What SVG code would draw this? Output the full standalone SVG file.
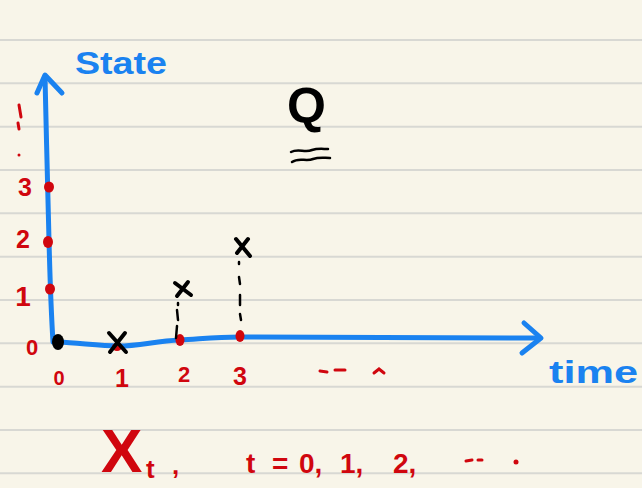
<svg xmlns="http://www.w3.org/2000/svg" width="642" height="488" viewBox="0 0 642 488">
<style>
.rule{stroke:#d8d8d3;stroke-width:2}
.blue{stroke:#1a82f0;stroke-width:5;fill:none;stroke-linecap:round;stroke-linejoin:round}
.blk{stroke:#000;stroke-width:4;fill:none;stroke-linecap:round}
.dash{stroke:#000;stroke-width:2.5;fill:none;stroke-linecap:round}
.rdash{stroke:#d0060e;stroke-width:3;fill:none;stroke-linecap:round}
.rdot{fill:#d0060e}
.rt{fill:#d0060e;font-family:"Liberation Sans",Arial,sans-serif;font-weight:bold}
.bt{fill:#1a82f0;font-family:"Liberation Sans",Arial,sans-serif;font-weight:bold}
</style>
<rect width="642" height="488" fill="#f8f5e9"/>
<g id="paper">
<line class="rule" x1="0" y1="40" x2="642" y2="40"/>
<line class="rule" x1="0" y1="83.3" x2="642" y2="83.3"/>
<line class="rule" x1="0" y1="126.7" x2="642" y2="126.7"/>
<line class="rule" x1="0" y1="170" x2="642" y2="170"/>
<line class="rule" x1="0" y1="213.3" x2="642" y2="213.3"/>
<line class="rule" x1="0" y1="256.7" x2="642" y2="256.7"/>
<line class="rule" x1="0" y1="300" x2="642" y2="300"/>
<line class="rule" x1="0" y1="343.3" x2="642" y2="343.3"/>
<line class="rule" x1="0" y1="386.7" x2="642" y2="386.7"/>
<line class="rule" x1="0" y1="430" x2="642" y2="430"/>
<line class="rule" x1="0" y1="473.3" x2="642" y2="473.3"/>
</g>
<g id="axes">
<path class="blue" d="M45,77 C46,130 48,190 49,240 C50,280 51,310 53,342"/>
<path class="blue" d="M37,93 L45,75 L62,93"/>
<path class="blue" d="M58,342 C80,343 100,346 118,346 C140,346 155,341 180,340 C200,339 215,337 240,337 L540,338"/>
<path class="blue" d="M524,323 L541,338 L522,353"/>
</g>
<g id="state-label"><text class="bt" x="75" y="74" font-size="32" textLength="92" lengthAdjust="spacingAndGlyphs">State</text></g>
<g id="time-label"><text class="bt" x="549" y="383" font-size="32" textLength="89" lengthAdjust="spacingAndGlyphs">time</text></g>
<g id="state-ticks">
<ellipse class="rdot" cx="49" cy="187" rx="5" ry="5.5"/>
<ellipse class="rdot" cx="48" cy="242" rx="5" ry="6"/>
<ellipse class="rdot" cx="50" cy="289" rx="5" ry="5.5"/>
<text class="rt" x="25" y="196" font-size="25" text-anchor="middle">3</text>
<text class="rt" x="23" y="248" font-size="25" text-anchor="middle">2</text>
<text class="rt" x="23" y="306" font-size="28" text-anchor="middle">1</text>
<text class="rt" x="32" y="355" font-size="22" text-anchor="middle">0</text>
<path class="rdash" d="M19,105 L21,117 M18,123 L19,129"/>
<circle class="rdot" cx="19" cy="155" r="1.5"/>
</g>
<g id="time-ticks">
<ellipse cx="58" cy="342" rx="6" ry="8" fill="#000"/>
<ellipse class="rdot" cx="117" cy="347" rx="5" ry="4"/>
<ellipse class="rdot" cx="180" cy="340" rx="4.5" ry="6"/>
<ellipse class="rdot" cx="240" cy="336" rx="4.5" ry="6"/>
<text class="rt" x="59" y="385" font-size="20" text-anchor="middle">0</text>
<text class="rt" x="122" y="387" font-size="25" text-anchor="middle">1</text>
<text class="rt" x="184" y="382" font-size="22" text-anchor="middle">2</text>
<text class="rt" x="240" y="385" font-size="25" text-anchor="middle">3</text>
<path class="rdash" d="M320,371 L327,372 M335,370 L345,370 M374,373 L379,369 L384,373"/>
</g>
<g id="samples">
<path class="blk" d="M109,333 L126,352 M125,333 L110,352"/>
<path class="blk" d="M175,283 L191,295 M188,282 L177,296"/>
<path class="blk" d="M236,239 L250,256 M248,239 L237,253"/>
<path class="dash" d="M178,303 L178,305 M177,310 L178,320 M177,326 L176,338"/>
<path class="dash" d="M239,262 L239,264 M239,277 L240,284 M240,295 L240,305 M240,314 L241,320"/>
</g>
<g id="matrix-Q">
<text x="287" y="123" font-size="50" font-family="Liberation Sans, Arial, sans-serif" font-weight="bold" fill="#000">Q</text>
<path class="dash" stroke-width="3" d="M291,152 C298,148 305,153 312,150 C318,148 323,149 328,149 M292,162 C299,157 306,162 313,159 C319,157 324,158 330,158"/>
</g>
<g id="process-label">
<text class="rt" x="101" y="472" font-size="62" font-weight="normal">X</text>
<text class="rt" x="146" y="478" font-size="26">t</text>
<text class="rt" x="172" y="474" font-size="26">,</text>
<text class="rt" font-size="28" y="473"><tspan x="246">t</tspan><tspan x="272">=</tspan><tspan x="299">0,</tspan><tspan x="340">1,</tspan><tspan x="393">2,</tspan></text>
<path class="rdash" d="M466,461 L472,460 M478,460 L482,460"/>
<circle class="rdot" cx="516" cy="462" r="2.5"/>
</g>
</svg>
